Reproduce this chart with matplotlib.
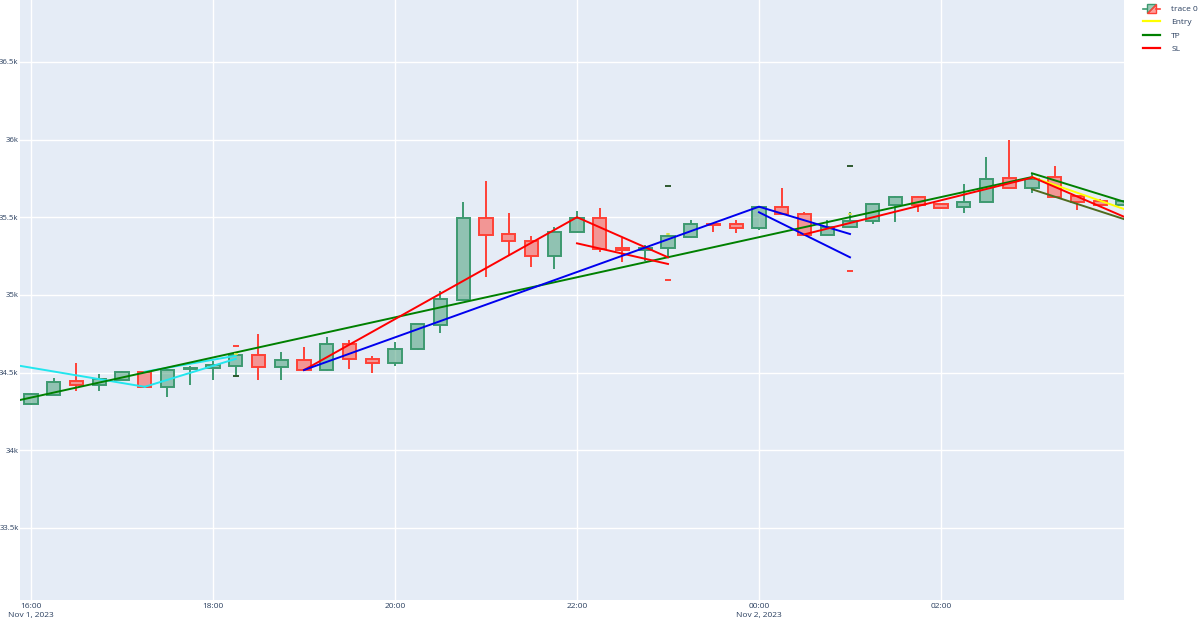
import matplotlib
matplotlib.use("Agg")
import matplotlib.pyplot as plt
import matplotlib.dates as mdates
from matplotlib.lines import Line2D
from matplotlib.patches import Patch, Polygon
import numpy as np
import pandas as pd

plt.rcParams["font.family"] = ["Open Sans", "DejaVu Sans"]

# 15 minute candles, Nov 1 16:00 -> Nov 2 04:00
times = pd.date_range("2023-11-01 16:00", periods=49, freq="15min")
opens = [34295, 34357, 34443, 34417, 34455, 34503, 34407, 34524, 34529, 34543,
         34614, 34533, 34578, 34513, 34685, 34588, 34561, 34651, 34807, 34968,
         35493, 35392, 35349, 35253, 35407, 35497, 35304, 35289, 35300, 35375,
         35457, 35457, 35433, 35564, 35521, 35386, 35435, 35478, 35579, 35632,
         35585, 35564, 35600, 35750, 35690, 35757, 35637, 35604, 35576]
highs = [34365, 34462, 34561, 34490, 34508, 34506, 34523, 34543, 34575, 34625,
         34747, 34632, 34664, 34728, 34711, 34608, 34696, 34814, 35026, 35596,
         35733, 35525, 35381, 35439, 35542, 35557, 35365, 35322, 35397, 35482,
         35459, 35482, 35572, 35686, 35536, 35482, 35532, 35585, 35635, 35635,
         35587, 35714, 35885, 35997, 35786, 35829, 35640, 35615, 35606]
lows = [34288, 34352, 34378, 34380, 34452, 34402, 34342, 34421, 34449, 34468,
        34449, 34453, 34510, 34510, 34524, 34500, 34539, 34648, 34754, 34965,
        35118, 35257, 35178, 35167, 35405, 35278, 35210, 35220, 35242, 35365,
        35407, 35397, 35418, 35515, 35383, 35383, 35432, 35457, 35471, 35536,
        35551, 35529, 35598, 35688, 35658, 35628, 35547, 35576, 35574]
closes = [34360, 34439, 34417, 34458, 34505, 34407, 34518, 34530, 34551, 34610,
          34537, 34578, 34513, 34685, 34588, 34561, 34653, 34812, 34972, 35493,
          35386, 35347, 35253, 35407, 35497, 35294, 35289, 35300, 35379, 35455,
          35447, 35433, 35564, 35519, 35386, 35435, 35478, 35583, 35632, 35579,
          35562, 35600, 35746, 35690, 35744, 35632, 35600, 35579, 35604]

# pattern lines (time, price)
cyan_a_t = ["2023-11-01 15:52:45", "2023-11-01 17:15:00"]
cyan_a_p = [34543, 34408]
cyan_b_t = ["2023-11-01 17:15:00", "2023-11-01 18:15:00"]
cyan_b_p = [34505, 34608]
cyan_c_t = ["2023-11-01 17:15:00", "2023-11-01 18:15:00"]
cyan_c_p = [34408, 34588]
green_long_t = ["2023-11-01 15:52:45", "2023-11-02 03:00:00"]
green_long_p = [34323, 35759]
red_a_t = ["2023-11-01 19:00:00", "2023-11-01 22:00:00", "2023-11-01 23:00:00"]
red_a_p = [34516, 35500, 35242]
red_b_t = ["2023-11-01 22:00:00", "2023-11-01 23:00:00"]
red_b_p = [35332, 35199]
blue_a_t = ["2023-11-01 19:00:00", "2023-11-02 00:00:00", "2023-11-02 01:00:00"]
blue_a_p = [34516, 35568, 35392]
blue_b_t = ["2023-11-02 00:00:00", "2023-11-02 01:00:00"]
blue_b_p = [35532, 35242]
red_c_t = ["2023-11-02 00:30:00", "2023-11-02 03:00:00"]
red_c_p = [35390, 35755]
olive_t = ["2023-11-02 03:00:00", "2023-11-02 04:00:40"]
olive_p = [35680, 35488]

# entry / tp / sl projections
proj_t = ["2023-11-02 03:00:00", "2023-11-02 04:00:40"]
entry_p = [35759, 35553]
tp_p = [35783, 35600]
sl_p = [35759, 35503]

# trade markers
mark_t = ["2023-11-01 18:15:00", "2023-11-01 23:00:00", "2023-11-02 01:00:00"]
mark_tp = [34476, 35703, 35830]
mark_sl = [34673, 35096, 35156]
mark_entry = [34622, 35392, 35522]

fig = plt.figure(figsize=(12, 6.22), dpi=100)
ax = fig.add_axes([20 / 1200, 22 / 622, 1104 / 1200, 600 / 622])
ax.set_facecolor("#E5ECF6")

t = mdates.date2num(times)
o = np.array(opens)
h = np.array(highs)
l = np.array(lows)
c = np.array(closes)
up = c > o
width = 8.8 / 1440
inc_fill = (61 / 255, 153 / 255, 112 / 255, 0.5)
dec_fill = (1.0, 65 / 255, 54 / 255, 0.5)
styles = [("#3D9970", inc_fill, up), ("#FF4136", dec_fill, ~up)]
for edge, fill, m in styles:
    lo = np.minimum(o, c)[m]
    hi = np.maximum(o, c)[m]
    ax.vlines(t[m], l[m], lo, color=edge, lw=1.4, zorder=2)
    ax.vlines(t[m], hi, h[m], color=edge, lw=1.4, zorder=2)
    ax.bar(t[m], hi - lo, bottom=lo, width=width, color=fill,
           edgecolor=edge, linewidth=1.4, zorder=3)


def dn(ts):
    return mdates.date2num(pd.to_datetime(ts, format="mixed"))


lw = 1.4
ax.plot(dn(cyan_a_t), cyan_a_p, color="#22E6EE", lw=lw, zorder=4)
ax.plot(dn(cyan_b_t), cyan_b_p, color="#22E6EE", lw=lw, zorder=4)
ax.plot(dn(cyan_c_t), cyan_c_p, color="#22E6EE", lw=lw, zorder=4)
ax.plot(dn(green_long_t), green_long_p, color="green", lw=lw, zorder=4)
ax.plot(dn(red_a_t), red_a_p, color="red", lw=lw, zorder=4)
ax.plot(dn(red_b_t), red_b_p, color="red", lw=lw, zorder=4)
ax.plot(dn(blue_a_t), blue_a_p, color="#0000EE", lw=lw, zorder=4)
ax.plot(dn(blue_b_t), blue_b_p, color="#0000EE", lw=lw, zorder=4)
ax.plot(dn(red_c_t), red_c_p, color="red", lw=lw, zorder=4)
ax.plot(dn(olive_t), olive_p, color="#4F6B1F", lw=lw, zorder=4)
ax.plot(dn(proj_t), entry_p, color="yellow", lw=lw, zorder=5)
ax.plot(dn(proj_t), sl_p, color="red", lw=lw, zorder=5)
ax.plot(dn(proj_t), tp_p, color="green", lw=lw, zorder=5)

mt = dn(mark_t)
ax.plot(mt, mark_tp, ls="none", marker="_", ms=4, mew=1.4, color="#2E5A2E", zorder=5)
ax.plot(mt, mark_sl, ls="none", marker="_", ms=4, mew=1.4, color="#FF4136", zorder=5)
ax.plot(mt, mark_entry, ls="none", marker="_", ms=3, mew=1.2, color="#E8E84A", zorder=5)

x0 = dn(["2023-11-01 15:52:45"])[0]
x1 = dn(["2023-11-02 04:00:40"])[0]
ax.set_xlim(x0, x1)
ax.set_ylim(33035, 36899)

xt = pd.date_range("2023-11-01 16:00", "2023-11-02 02:00", freq="2h")
xl = []
for i, d in enumerate(xt):
    s = d.strftime("%H:%M")
    if i == 0 or d.hour == 0:
        s += "\n" + d.strftime("%b") + " " + str(d.day) + ", " + str(d.year)
    xl.append(s)
ax.set_xticks(mdates.date2num(xt))
ax.set_xticklabels(xl, linespacing=1.25)

yt = [33500, 34000, 34500, 35000, 35500, 36000, 36500]
ax.set_yticks(yt)
ax.set_yticklabels([("%g" % (v / 1000)) + "k" for v in yt])

ax.tick_params(length=0, colors="#2a3f5f")
ax.tick_params(axis="y", pad=1.0, labelsize=5.6)
ax.tick_params(axis="x", pad=2.5, labelsize=6.0)
ax.grid(True, color="white", lw=1)
ax.set_axisbelow(True)
for s in ax.spines.values():
    s.set_visible(False)


class CandleIcon:
    # green / red split box with whiskers, like plotly's candlestick legend icon
    def legend_artist(self, legend, orig_handle, fontsize, handlebox):
        x, y = -handlebox.xdescent, -handlebox.ydescent
        w, hh = handlebox.width, handlebox.height
        bx0, bx1 = x + w * 0.22, x + w * 0.78
        by0, by1 = y - hh * 0.25, y + hh * 1.25
        ym = y + hh / 2
        tr = handlebox.get_transform()
        whisk = Line2D([x, bx0], [ym, ym], color="#3D9970", lw=1.2, transform=tr)
        whisk2 = Line2D([bx1, x + w], [ym, ym], color="#FF4136", lw=1.2, transform=tr)
        up_tri = Polygon([[bx0, by0], [bx0, by1], [bx1, by1]], closed=True,
                         facecolor=inc_fill, edgecolor="#3D9970", lw=1.0, transform=tr)
        dn_tri = Polygon([[bx0, by0], [bx1, by0], [bx1, by1]], closed=True,
                         facecolor=dec_fill, edgecolor="#FF4136", lw=1.0, transform=tr)
        for a in (whisk, whisk2, up_tri, dn_tri):
            handlebox.add_artist(a)
        return up_tri


candle_handle = Patch()
handles = [
    candle_handle,
    Line2D([], [], color="yellow", lw=1.6),
    Line2D([], [], color="green", lw=1.6),
    Line2D([], [], color="red", lw=1.6),
]
fig.legend(handles, ["trace 0", "Entry", "TP", "SL"], loc="upper left",
           bbox_to_anchor=(1140 / 1200, 1 - 2 / 622), frameon=False,
           fontsize=6.0, handlelength=2.0, handleheight=0.8, labelspacing=0.6,
           handletextpad=1.35, borderaxespad=0, labelcolor="#2a3f5f",
           handler_map={candle_handle: CandleIcon()})

fig.savefig("out.png", dpi=100, facecolor="white")
